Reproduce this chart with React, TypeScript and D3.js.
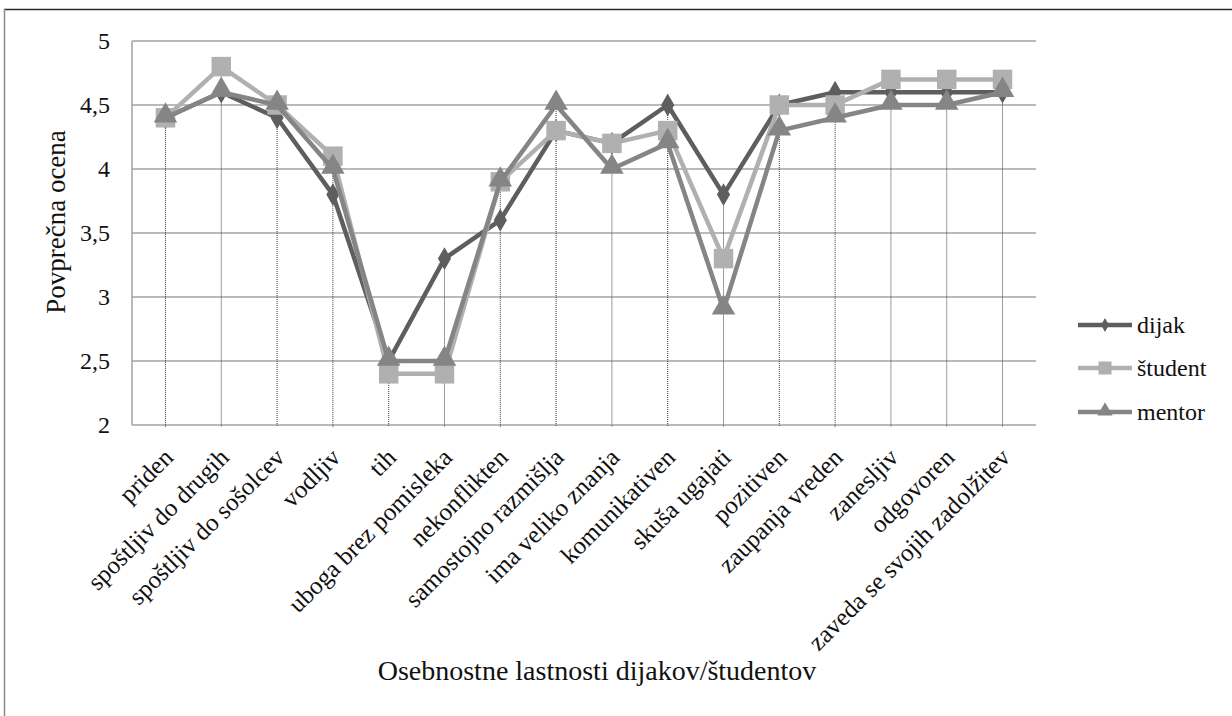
import React, { useEffect, useRef } from "react";
import * as d3 from "d3";

const categories = [
  "priden",
  "spoštljiv do drugih",
  "spoštljiv do sošolcev",
  "vodljiv",
  "tih",
  "uboga brez pomisleka",
  "nekonflikten",
  "samostojno razmišlja",
  "ima veliko znanja",
  "komunikativen",
  "skuša ugajati",
  "pozitiven",
  "zaupanja vreden",
  "zanesljiv",
  "odgovoren",
  "zaveda se svojih zadolžitev",
];

const dijak = [4.4, 4.6, 4.4, 3.8, 2.5, 3.3, 3.6, 4.3, 4.2, 4.5, 3.8, 4.5, 4.6, 4.6, 4.6, 4.6];
const student = [4.4, 4.8, 4.5, 4.1, 2.4, 2.4, 3.9, 4.3, 4.2, 4.3, 3.3, 4.5, 4.5, 4.7, 4.7, 4.7];
const mentor = [4.4, 4.6, 4.5, 4.0, 2.5, 2.5, 3.9, 4.5, 4.0, 4.2, 2.9, 4.3, 4.4, 4.5, 4.5, 4.6];

const yTicks = [2, 2.5, 3, 3.5, 4, 4.5, 5];
const seriesNames = ["dijak", "študent", "mentor"];

const yTitle = "Povprečna ocena";
const xTitle = "Osebnostne lastnosti dijakov/študentov";

const FONT = "'Liberation Serif', 'Times New Roman', serif";

export default function App() {
  const ref = useRef<SVGSVGElement | null>(null);

  useEffect(() => {
    const svg = d3.select(ref.current);
    svg.selectAll("*").remove();

    const left = 132, right = 1036, top = 41, bottom = 425;
    const x = d3.scalePoint<string>().domain(categories).range([left, right]).padding(0.6);
    const y = d3.scaleLinear().domain([2, 5]).range([bottom, top]);

    svg.append("rect").attr("width", 1232).attr("height", 716).attr("fill", "#fff");

    // outer border (top and left visible)
    svg.append("line").attr("x1", 4).attr("x2", 1232).attr("y1", 9.5).attr("y2", 9.5)
      .attr("stroke", "#2a2a2a").attr("stroke-width", 1.5);
    svg.append("line").attr("x1", 4.5).attr("x2", 4.5).attr("y1", 9).attr("y2", 716)
      .attr("stroke", "#8a8a8a").attr("stroke-width", 1.5);

    // gridlines
    const g = svg.append("g");
    g.selectAll("line.grid").data(yTicks).join("line")
      .attr("x1", left).attr("x2", right)
      .attr("y1", (d) => y(d)).attr("y2", (d) => y(d))
      .attr("stroke", "#a3a3a3").attr("stroke-width", 1.5);
    g.append("line").attr("x1", left).attr("x2", left).attr("y1", top).attr("y2", bottom)
      .attr("stroke", "#a3a3a3").attr("stroke-width", 1.5);

    // y tick labels
    g.selectAll("text.yt").data(yTicks).join("text")
      .attr("x", 110).attr("y", (d) => y(d)).attr("dy", "0.35em")
      .attr("text-anchor", "end").attr("font-family", FONT).attr("font-size", 24)
      .attr("fill", "#111")
      .text((d) => d3.format(".1~f")(d).replace(".", ","));

    // drop lines
    const maxVals = categories.map((_, i) => Math.max(dijak[i], student[i], mentor[i]));
    g.selectAll("line.drop").data(categories).join("line")
      .attr("x1", (d) => x(d)!).attr("x2", (d) => x(d)!)
      .attr("y1", (_, i) => y(maxVals[i])).attr("y2", bottom + 2)
      .attr("stroke", "#3a3a3a").attr("stroke-width", 1).attr("stroke-dasharray", "1,1");

    // category labels
    g.selectAll("text.xt").data(categories).join("text")
      .attr("transform", (d) => `translate(${x(d)! + 9},${bottom + 34}) rotate(-45)`)
      .attr("text-anchor", "end").attr("font-family", FONT).attr("font-size", 25)
      .attr("fill", "#111")
      .text((d) => d);

    const series = [
      { name: seriesNames[0], values: dijak, color: "#5e5e5e", sym: d3.symbolDiamond, size: 150, lsize: 55 },
      { name: seriesNames[1], values: student, color: "#b0b0b0", sym: d3.symbolSquare, size: 380, lsize: 170 },
      { name: seriesNames[2], values: mentor, color: "#858585", sym: d3.symbolTriangle, size: 240, lsize: 100 },
    ];

    const line = d3.line<number>().x((_, i) => x(categories[i])!).y((d) => y(d));

    series.forEach((s) => {
      const sg = svg.append("g");
      sg.append("path").attr("d", line(s.values)).attr("fill", "none")
        .attr("stroke", s.color).attr("stroke-width", 4.5).attr("stroke-linejoin", "round");
      const sym = d3.symbol().type(s.sym).size(s.size);
      const dy = s.sym === d3.symbolTriangle ? -2 : 0;
      sg.selectAll("path.m").data(s.values).join("path")
        .attr("d", sym()!)
        .attr("transform", (d, i) => `translate(${x(categories[i])},${y(d) + dy})`)
        .attr("fill", s.color);
    });

    // legend
    const legY = [325, 368, 412];
    series.forEach((s, i) => {
      const lg = svg.append("g").attr("transform", `translate(0,${legY[i]})`);
      lg.append("line").attr("x1", 1078).attr("x2", 1132).attr("y1", 0).attr("y2", 0)
        .attr("stroke", s.color).attr("stroke-width", 4.5);
      lg.append("path").attr("d", d3.symbol().type(s.sym).size(s.lsize)()!)
        .attr("transform", `translate(1105,${s.sym === d3.symbolTriangle ? -1 : 0})`)
        .attr("fill", s.color);
      lg.append("text").attr("x", 1137).attr("y", 0).attr("dy", "0.32em")
        .attr("font-family", FONT).attr("font-size", 24).attr("fill", "#111")
        .text(s.name);
    });

    // axis titles
    svg.append("text").attr("transform", `translate(65,222) rotate(-90)`)
      .attr("text-anchor", "middle").attr("font-family", FONT).attr("font-size", 27)
      .attr("fill", "#111").text(yTitle);
    svg.append("text").attr("x", 597).attr("y", 680)
      .attr("text-anchor", "middle").attr("font-family", FONT).attr("font-size", 28)
      .attr("fill", "#111").text(xTitle);
  }, []);

  return (
    <svg
      ref={ref}
      width={1232}
      height={716}
      style={{ position: "absolute", left: 0, top: 0, display: "block" }}
    />
  );
}
